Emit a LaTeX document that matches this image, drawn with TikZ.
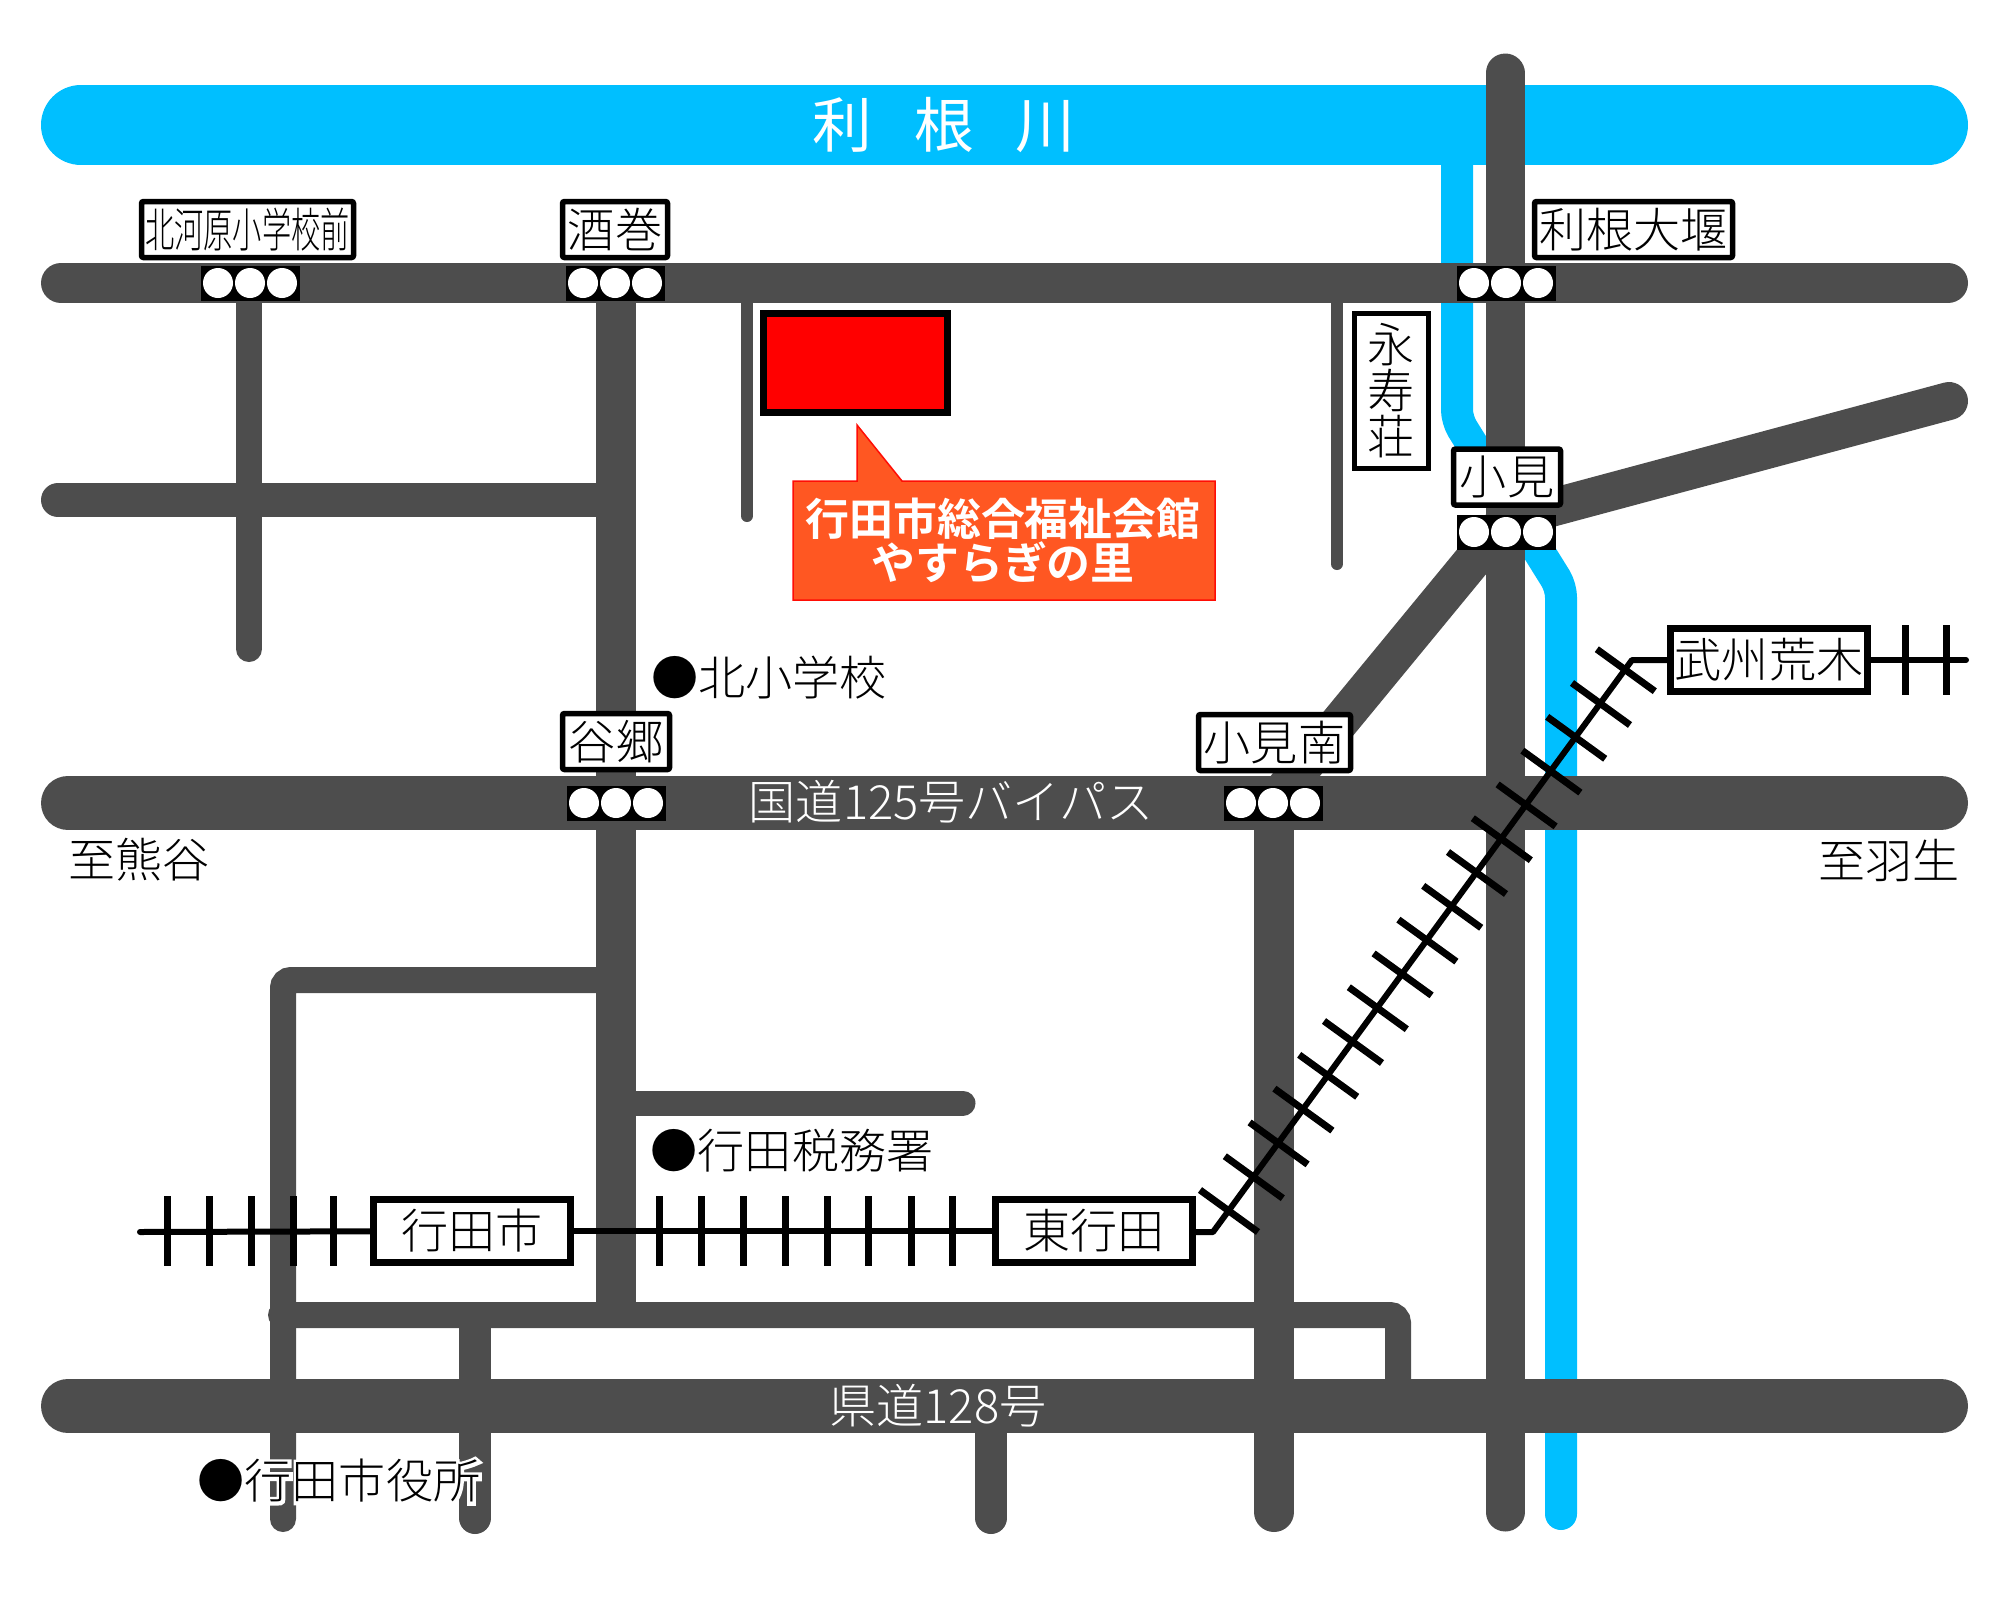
\documentclass[tikz,border=0pt]{standalone}
\usepackage{fontspec}
\usepackage{graphicx}
\setmainfont{Noto Sans CJK JP Light}[BoldFont=Noto Sans CJK JP Bold]
\newfontfamily \halofont {Noto Sans CJK JP Light}[FakeBold=14]
\newfontfamily \titlefont {Noto Sans CJK JP}
\usetikzlibrary{positioning}
\definecolor{rivercol}{HTML}{00BFFF}
\definecolor{roadcol}{HTML}{4D4D4D}
\definecolor{callcol}{HTML}{FF5722}
\newcommand \jpsize {\fontsize{13.4}{13.1}\selectfont}
\tikzstyle{river}=[draw=rivercol,line cap=round,line join=round]
\tikzstyle{road}=[draw=roadcol,line cap=round,line width=3.2mm]
\tikzstyle{mainroad}=[road,line width=5.4mm]
\tikzstyle{bigroad}=[road,line width=4mm]
\tikzstyle{track}=[draw=black,line width=0.6mm,line cap=round,line join=round]
\tikzstyle{tie}=[draw=black,line width=0.7mm]
\tikzstyle{sigbox}=[rectangle,fill=black,inner sep=0mm,minimum width=9.9mm,minimum height=3.5mm]
\tikzstyle{lamp}=[circle,fill=white,inner sep=0mm,minimum size=3mm]
\tikzstyle{busstop}=[rectangle,draw=black,fill=white,line width=0.55mm,rounded corners=0.2mm,inner sep=0mm,font=\jpsize]
\tikzstyle{station}=[rectangle,draw=black,fill=white,line width=0.7mm,inner sep=0mm,font=\jpsize,minimum width=19.7mm,minimum height=6.3mm]
\tikzstyle{place}=[inner sep=0mm,font=\jpsize]
\tikzstyle{roadtext}=[place,text=white]
\newcommand \signal [3] {
  \node[sigbox] at (#2,#3) (#1) {};
  \foreach \k/\d in {1/-3.2,2/0,3/3.2}
    \node[lamp,xshift=\d mm] at (#1.center) (#1\k) {};
}

\begin{document}
\begin{tikzpicture}[x=0.1mm,y=-0.1mm]
        \useasboundingbox (0,0) rectangle (2000,1600);
        % rivers
        \draw[river,line width=8mm] (81,125) -- (1928,125);
        \draw[river,line width=3.2mm,rounded corners=1mm] (1457,125) -- (1457,420) -- (1561,587) -- (1561,1514);
        % roads
        \draw[bigroad] (61,283) -- (1948,283);
        \draw[mainroad] (68,803) -- (1941,803);
        \draw[mainroad] (68,1406) -- (1941,1406);
        \draw[bigroad,line width=3.9mm] (1505,73) -- (1505,1512);
        \draw[bigroad,line width=3.8mm] (1506,520) -- (1949,401);
        \draw[bigroad,line width=3.8mm] (1506,520) -- (1273,803);
        \draw[bigroad] (1274,803) -- (1274,1512);
        \draw[road,line width=2.6mm] (249,283) -- (249,649);
        \draw[road,line width=3.4mm] (58,500) -- (616,500);
        \draw[bigroad,line cap=butt] (616,283) -- (616,1328);
        \draw[road,line width=1.2mm] (747,283) -- (747,516);
        \draw[road,line width=1.2mm] (1337,283) -- (1337,564);
        \draw[road,line width=2.6mm,rounded corners=0.8mm] (616,980) -- (283,980) -- (283,1519);
        \draw[road,line width=2.5mm] (616,1103) -- (963,1103);
        \draw[road,line width=2.6mm,rounded corners=0.8mm] (281,1315) -- (1398,1315) -- (1398,1406);
        \draw[road] (475,1330) -- (475,1518);
        \draw[road] (991,1406) -- (991,1518);
        % signals
        \signal{kitagawara}{250}{283}
        \signal{sakamaki}{615}{283}
        \signal{toneoozeki}{1506}{283}
        \signal{omi}{1506}{532}
        \signal{yago}{616}{803}
        \signal{omiminami}{1273}{803}
        % railway
        \node[station] at (472,1231) (gyodashi) {行田市};
        \node[station] at (1094,1231) (higashi) {東行田};
        \node[station] at (1769,660) (bushu) {武州荒木};
        \coordinate (trackw) at (140,1232);
        \coordinate (trackbenda) at (1213,1232);
        \coordinate (trackbendb) at (1632,660);
        \coordinate (tracke) at (1966,660);
        \draw[track] (trackw) -- (gyodashi);
        \draw[track] (gyodashi) -- (higashi);
        \draw[track] (higashi.east |- trackbenda) -- (trackbenda) -- (trackbendb) -- (bushu.west);
        \draw[track] (bushu) -- (tracke);
        \foreach \x in {167,209,251,293,333,659,701,743,785,827,868,911,952}
          \draw[tie] (\x,1196) -- (\x,1266);
        \foreach \x in {1905,1946}
          \draw[tie] (\x,625) -- (\x,695);
        \foreach \i in {0,...,16}
          \draw[tie] ({1200+24.8*\i},{1190-33.8*\i}) -- ({1258+24.8*\i},{1232-33.8*\i});
        % stop names
        \node[busstop,minimum width=21.2mm,minimum height=5.6mm] at (247.5,229.5) (kitaname) {\scalebox{0.62}[1]{北河原小学校前}};
        \node[busstop,minimum width=10.5mm,minimum height=5.6mm] at (615,229.5) (sakaname) {酒巻};
        \node[busstop,minimum width=19.8mm,minimum height=5.6mm] at (1633.5,229.5) (tonename) {利根大堰};
        \node[busstop,rounded corners=0mm,minimum width=7.4mm,minimum height=15.5mm,align=center] at (1391.5,391) (eiju) {永\\寿\\荘};
        \node[busstop,minimum width=10.7mm,minimum height=5.6mm] at (1507,477) (ominame) {小見};
        \node[busstop,minimum width=10.7mm,minimum height=5.6mm] at (616,741.5) (yagoname) {谷郷};
        \node[busstop,minimum width=15.2mm,minimum height=5.6mm] at (1274.5,742.5) (minaminame) {小見南};
        % facility
        \node[rectangle,draw=black,fill=red,line width=0.7mm,minimum width=18.4mm,minimum height=9.9mm,inner sep=0mm] at (855.5,363) (yasuragi) {};
        \draw[draw=red!85!callcol,fill=callcol,line width=0.15mm] (793,481) -- (857,481) -- (857,425) -- (902,481) -- (1215,481) -- (1215,600) -- (793,600) -- cycle;
        \node[inner sep=0mm,text=white,align=center,font=\fontsize{12.5}{12.5}\selectfont\bfseries] at (1003,541) (yasuname) {行田市総合福祉会館\\やすらぎの里};
        % names
        \node[roadtext,font=\fontsize{17}{17}\selectfont\titlefont] at (944,125) (tonegawa) {利\hspace{4.2mm}根\hspace{4.2mm}川};
        \node[roadtext] at (951,802) (kokudo) {国道125号バイパス};
        \node[roadtext] at (938,1406) (kendo) {県道128号};
        \node[place] at (139,860) (kumagaya) {至熊谷};
        \node[place] at (1889,860) (hanyu) {至羽生};
        \node[place] at (769,678) (kitasho) {●北小学校};
        \node[place] at (792,1151) (zeimusho) {●行田税務署};
        \node[place,text=white,font=\jpsize\halofont] at (339,1481) (shiyakuhalo) {●行田市役所};
        \node[place] at (339,1481) (shiyakusho) {●行田市役所};
      \end{tikzpicture}
\end{document}
